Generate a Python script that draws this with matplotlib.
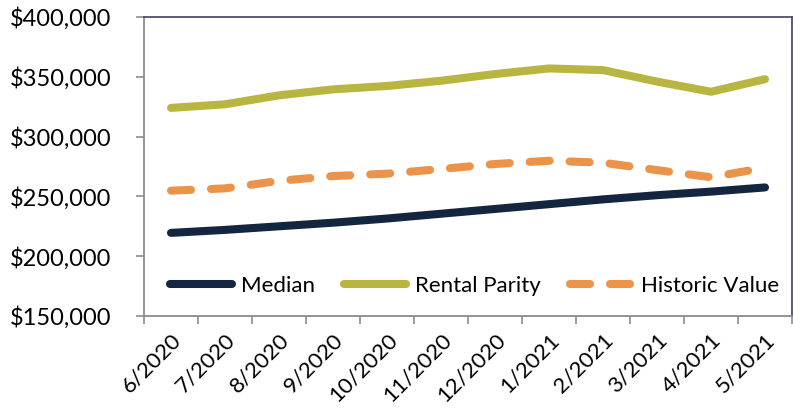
import matplotlib
matplotlib.use("Agg")
import matplotlib.pyplot as plt
from matplotlib.ticker import FuncFormatter, FixedLocator
import numpy as np

plt.rcParams['font.family'] = ['Lato', 'DejaVu Sans']
plt.rcParams['lines.scale_dashes'] = False

months = ["6/2020", "7/2020", "8/2020", "9/2020", "10/2020", "11/2020",
          "12/2020", "1/2021", "2/2021", "3/2021", "4/2021", "5/2021"]
median = [219500, 222000, 225000, 228000, 231500, 235500,
          239500, 243500, 247500, 251000, 254000, 257500]
rental_parity = [324000, 327000, 334500, 339500, 342300, 346700,
                 352300, 357000, 355600, 346000, 337500, 348000]
historic_value = [254800, 256700, 263000, 267000, 269000, 272900,
                  277100, 279800, 278200, 272000, 266000, 274000]

x = np.arange(len(months))

fig = plt.figure(figsize=(7.93, 4.09), dpi=100)
ax = fig.add_axes([144/793, 1-316/409, (792-144)/793, (316-17)/409])

lw = 5.8
ax.plot(x, median, color="#14263F", lw=lw, solid_capstyle='round',
        solid_joinstyle='round', label="Median")
ax.plot(x, rental_parity, color="#B8B640", lw=lw, solid_capstyle='round',
        solid_joinstyle='round', label="Rental Parity")
ax.plot(x, historic_value, color="#EB9349", lw=lw, dash_capstyle='round',
        dash_joinstyle='round', dashes=(14.4, 14.4), label="Historic Value")

ax.set_xlim(-0.5, len(months) - 0.5)
ax.set_ylim(150000, 400000)
ax.set_yticks(np.arange(150000, 400001, 50000))
ax.yaxis.set_major_formatter(FuncFormatter(lambda v, p: "${:,.0f}".format(v)))

ax.set_xticks(x)
ax.set_xticklabels(months, rotation=45, ha='right', va='top', rotation_mode='anchor')
ax.xaxis.set_minor_locator(FixedLocator(np.arange(-0.5, len(months), 1.0)))
ax.tick_params(axis='x', which='major', length=0, pad=10, labelsize=16, colors='black')
ax.tick_params(axis='x', which='minor', length=5.5, width=1.2, color='#8C8C8C')
ax.tick_params(axis='y', which='major', length=5.5, width=1.2, color='#8C8C8C',
               pad=18, labelsize=17)

for s in ['left', 'bottom']:
    ax.spines[s].set_color('#8C8C8C')
    ax.spines[s].set_linewidth(1.3)
for s in ['top', 'right']:
    ax.spines[s].set_color('#4A3D5E')
    ax.spines[s].set_linewidth(1.2)

leg = ax.legend(loc='center', bbox_to_anchor=(474.5/793, 1-286/409),
                bbox_transform=fig.transFigure, ncol=3, frameon=False,
                fontsize=16, handlelength=2.8, handletextpad=0.4,
                columnspacing=1.3, borderpad=0)

fig.savefig("out.png", dpi=100)
